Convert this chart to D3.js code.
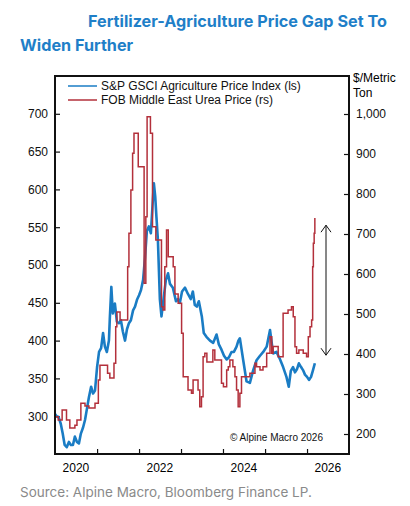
<!DOCTYPE html>
<html>
<head>
<meta charset="utf-8">
<title>Fertilizer-Agriculture Price Gap</title>
<script src="https://d3js.org/d3.v7.min.js"></script>
<style>
  body { margin: 0; background: #fff; }
  .tick text { font-family: "Liberation Sans", Arial, sans-serif; font-size: 12px; fill: #111; }
  .tick line { stroke: #111; stroke-width: 1.2px; }
</style>
</head>
<body>
<svg width="410" height="506"></svg>
<script>
// S&P GSCI Agriculture (left scale)
var aggDates = ["2020-01-01","2020-01-15","2020-02-01","2020-02-20","2020-03-08","2020-03-25","2020-04-12","2020-05-01","2020-05-18","2020-06-05","2020-06-22","2020-07-10","2020-07-27","2020-08-13","2020-09-01","2020-09-18","2020-10-05","2020-10-22","2020-11-10","2020-11-27","2020-12-14",
  "2021-01-01","2021-01-18","2021-02-05","2021-02-22","2021-03-10","2021-03-27","2021-04-14","2021-04-22","2021-05-05","2021-05-18","2021-06-05","2021-06-22","2021-07-10","2021-07-27","2021-08-13","2021-09-01","2021-09-18","2021-10-05","2021-10-22","2021-11-10","2021-11-27","2021-12-14",
  "2022-01-01","2022-01-18","2022-02-05","2022-02-22","2022-03-10","2022-03-27","2022-04-14","2022-05-01","2022-05-10","2022-05-22","2022-06-01","2022-06-14","2022-07-01","2022-07-15","2022-07-29","2022-08-22","2022-09-10","2022-09-27","2022-10-22","2022-11-18","2022-12-05","2022-12-22",
  "2023-01-10","2023-02-05","2023-03-01","2023-03-27","2023-04-14","2023-05-01","2023-05-18","2023-06-05","2023-07-01","2023-07-18","2023-08-10","2023-09-10","2023-10-08","2023-11-06","2023-11-26","2023-12-19",
  "2024-01-10","2024-02-02","2024-02-22","2024-03-15","2024-04-05","2024-04-28","2024-05-14","2024-05-27","2024-06-25","2024-07-24","2024-08-22","2024-09-20","2024-10-19","2024-11-18","2024-12-16",
  "2025-01-15","2025-02-13","2025-03-12","2025-04-10","2025-05-09","2025-06-07","2025-07-06","2025-07-26","2025-08-13","2025-09-01","2025-09-18","2025-10-05","2025-10-22","2025-11-10","2025-11-27","2025-12-14",
  "2026-01-01","2026-01-18","2026-02-05","2026-02-22","2026-03-10"];
var aggValues = [303,300,299,290,277,262,259,266,262,262,273,266,264,277,285,295,310,325,339,330,334,
  365,385,390,410,392,385,400,430,471,436,449,425,423,427,412,400,415,423,427,440,445,454,
  460,467,480,510,545,551,542,586,608,590,564,533,455,432,450,480,489,475,470,452,455,450,
  465,470,462,455,465,447,445,452,432,410,405,400,397,408,395,388,
  380,375,378,385,385,392,400,403,374,346,344,361,374,380,385,
  392,414,383,385,376,365,352,339,360,365,358,362,370,365,361,355,
  352,348,352,361,370];

// FOB Middle East urea (right scale), weekly assessments drawn as steps
var ureaDates = ["2020-01-01","2020-01-29","2020-03-03","2020-04-10","2020-05-09","2020-06-22","2020-07-10","2020-08-13","2020-09-18","2020-10-22","2020-12-14",
  "2021-01-12","2021-01-26","2021-04-02","2021-04-22","2021-05-28","2021-06-12","2021-06-22","2021-07-20","2021-09-24","2021-10-05","2021-10-22","2021-11-06","2021-11-18","2021-12-25",
  "2022-02-14","2022-03-01","2022-03-12","2022-04-10","2022-04-28","2022-05-27","2022-07-15","2022-07-29","2022-08-13","2022-08-28","2022-09-12","2022-10-25","2022-11-09","2022-12-07",
  "2023-01-06","2023-01-20","2023-03-03","2023-04-02","2023-04-16","2023-05-29","2023-06-13","2023-06-28","2023-07-12","2023-07-27","2023-08-14","2023-10-05","2023-10-22","2023-12-19",
  "2024-01-05","2024-02-02","2024-02-16","2024-03-01","2024-03-27","2024-04-14","2024-04-28","2024-05-12","2024-05-27","2024-06-10","2024-08-22","2024-10-05","2024-10-19","2024-11-18","2024-12-14",
  "2025-01-15","2025-02-13","2025-02-28","2025-03-12","2025-04-25","2025-06-07","2025-07-20","2025-08-19","2025-09-03","2025-09-18","2025-10-02","2025-10-22","2025-11-29","2025-12-28",
  "2026-01-12","2026-01-27","2026-02-10","2026-02-19","2026-02-25","2026-03-04","2026-03-10"];
var ureaValues = [243,235,260,235,215,222,235,277,270,265,277,
  335,372,352,340,377,468,505,485,618,702,810,902,952,868,
  577,743,993,952,718,685,518,510,618,710,643,618,550,527,
  452,343,310,302,335,310,268,293,393,402,380,410,385,327,
  318,360,368,385,368,343,310,268,302,343,352,377,368,360,368,
  402,443,402,419,393,502,510,518,493,418,402,410,402,393,
  443,468,485,618,677,702,740];

var leftTicks = [300, 350, 400, 450, 500, 550, 600, 650, 700];
var rightTicks = [200, 300, 400, 500, 600, 700, 800, 900, 1000];
var yearTicks = [2021, 2022, 2023, 2024, 2025, 2026];
var yearLabels = [2020, 2022, 2024, 2026];
var gapArrow = [722, 397];   // urea scale, top and bottom of the arrow

(function(){
var parse = d3.timeParse("%Y-%m-%d");
var agg = aggDates.map(function(d, i){ return {date: parse(d), v: aggValues[i]}; });
var urea = ureaDates.map(function(d, i){ return {date: parse(d), v: ureaValues[i]}; });

var svg = d3.select("svg");
var pl = 55, pr = 349, pt = 76, pb = 454;

var x = d3.scaleTime().domain([new Date(2020,0,1), new Date(2027,0,1)]).range([pl, pr]);
var yL = d3.scaleLinear().domain([250, 750]).range([pb, pt]);
var yR = d3.scaleLinear().domain([150, 1095]).range([pb, pt]);

// title
svg.append("text").attr("x", 88).attr("y", 27).text("Fertilizer-Agriculture Price Gap Set To")
  .style("font-family", "Inter, 'Open Sans', sans-serif").style("font-weight", 700)
  .style("font-size", "16.2px").style("fill", "#1f7fc8");
svg.append("text").attr("x", 20).attr("y", 51).text("Widen Further")
  .style("font-family", "Inter, 'Open Sans', sans-serif").style("font-weight", 700)
  .style("font-size", "16.2px").style("fill", "#1f7fc8");

// axes
var gx = svg.append("g").attr("transform", "translate(0," + pb + ")")
  .call(d3.axisBottom(x).tickValues(yearTicks.map(function(y){ return new Date(y,0,1); }))
    .tickSizeInner(-5).tickSizeOuter(0).tickFormat(""));
gx.select(".domain").remove();

svg.selectAll(".yearlab").data(yearLabels).enter().append("text")
  .attr("class", "yearlab")
  .attr("x", function(d){ return x(new Date(d,6,1)); })
  .attr("y", 472)
  .attr("text-anchor", "middle")
  .style("font-family", "'Liberation Sans', Arial, sans-serif").style("font-size", "12px")
  .text(function(d){ return d; });

var gl = svg.append("g").attr("transform", "translate(" + pl + ",0)")
  .call(d3.axisLeft(yL).tickValues(leftTicks).tickSizeInner(-5).tickSizeOuter(0).tickPadding(7));
gl.select(".domain").remove();

var gr = svg.append("g").attr("transform", "translate(" + pr + ",0)")
  .call(d3.axisRight(yR).tickValues(rightTicks).tickSizeInner(-5).tickSizeOuter(0).tickPadding(7)
    .tickFormat(d3.format(",")));
gr.select(".domain").remove();

svg.append("text").attr("x", 353).attr("y", 82).text("$/Metric")
  .style("font-family", "'Liberation Sans', Arial, sans-serif").style("font-size", "12px");
svg.append("text").attr("x", 353).attr("y", 97).text("Ton")
  .style("font-family", "'Liberation Sans', Arial, sans-serif").style("font-size", "12px");

// series
var lineAgg = d3.line().x(function(d){ return x(d.date); }).y(function(d){ return yL(d.v); });
var lineUrea = d3.line().curve(d3.curveStepAfter).x(function(d){ return x(d.date); }).y(function(d){ return yR(d.v); });

svg.append("path").datum(agg).attr("d", lineAgg)
  .style("fill", "none").style("stroke", "#1a7cc4").style("stroke-width", 2.6).style("stroke-linejoin", "round");
svg.append("path").datum(urea).attr("d", lineUrea)
  .style("fill", "none").style("stroke", "#b3303b").style("stroke-width", 1.5);

// frame
svg.append("rect").attr("x", pl).attr("y", pt).attr("width", pr - pl).attr("height", pb - pt)
  .style("fill", "none").style("stroke", "#111").style("stroke-width", 2);

// legend
var legend = [{t: "S&P GSCI Agriculture Price Index (ls)", c: "#1a7cc4"}, {t: "FOB Middle East Urea Price (rs)", c: "#b3303b"}];
var lg = svg.selectAll(".leg").data(legend).enter().append("g").attr("class", "leg")
  .attr("transform", function(d, i){ return "translate(68," + (86 + i * 14) + ")"; });
lg.append("line").attr("x1", 0).attr("x2", 29).attr("y1", 0).attr("y2", 0)
  .style("stroke", function(d){ return d.c; }).style("stroke-width", 1.5);
lg.append("text").attr("x", 33).attr("y", 4).text(function(d){ return d.t; })
  .style("font-family", "'Liberation Sans', Arial, sans-serif").style("font-size", "12px").style("fill", "#111");

// gap arrow
var ax = 326;
svg.append("line").attr("x1", ax).attr("x2", ax).attr("y1", yR(gapArrow[0])).attr("y2", yR(gapArrow[1]))
  .style("stroke", "#111").style("stroke-width", 1);
svg.append("path")
  .attr("d", "M" + (ax - 5) + "," + (yR(gapArrow[0]) + 7) + "L" + ax + "," + yR(gapArrow[0]) + "L" + (ax + 5) + "," + (yR(gapArrow[0]) + 7)
    + "M" + (ax - 5) + "," + (yR(gapArrow[1]) - 7) + "L" + ax + "," + yR(gapArrow[1]) + "L" + (ax + 5) + "," + (yR(gapArrow[1]) - 7))
  .style("fill", "none").style("stroke", "#111").style("stroke-width", 1);

svg.append("text").attr("x", 323).attr("y", 441).attr("text-anchor", "end").text("© Alpine Macro 2026")
  .style("font-family", "'Liberation Sans', Arial, sans-serif").style("font-size", "10px").style("fill", "#111");

svg.append("text").attr("x", 20).attr("y", 497).text("Source: Alpine Macro, Bloomberg Finance LP.")
  .style("font-family", "Inter, 'Open Sans', sans-serif").style("font-size", "13.5px").style("fill", "#8a8a8a");
})();
</script>
</body>
</html>
